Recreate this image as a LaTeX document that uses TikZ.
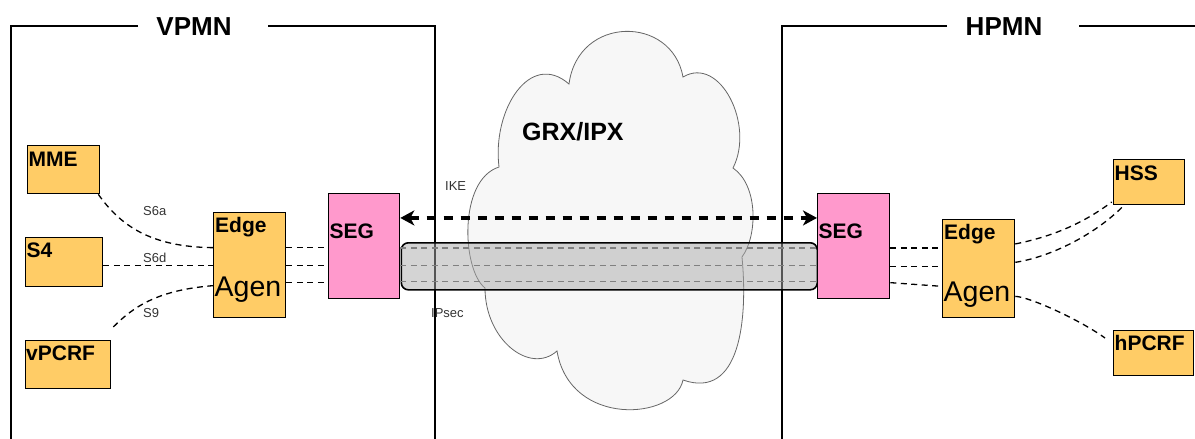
\documentclass[tikz,border=0pt]{standalone}
\usepackage{fontspec}
\setmainfont{Liberation Sans}
\usetikzlibrary{arrows.meta,calc}
\definecolor{boxor}{HTML}{FFCC66}
\definecolor{boxpk}{HTML}{FF99CC}
\definecolor{cloudfill}{HTML}{F7F7F7}
\definecolor{cloudline}{HTML}{666666}
\definecolor{lbl}{HTML}{333333}
\definecolor{tunfill}{HTML}{AAAAAA}
\definecolor{tundash}{HTML}{808080}
\begin{document}
\begin{tikzpicture}[x=1pt,y=-1pt,
  frame/.style={line width=2pt},
  box/.style={draw=black, line width=1.3pt, inner sep=0pt, anchor=north west},
  orbox/.style={box, fill=boxor},
  pkbox/.style={box, fill=boxpk},
  bt/.style={font=\fontsize{21}{24}\selectfont\bfseries, anchor=base west, inner sep=0pt},
  big/.style={font=\fontsize{28.5}{32}\selectfont, anchor=base west, inner sep=0pt},
  title/.style={font=\fontsize{26}{30}\selectfont\bfseries, anchor=base, inner sep=0pt},
  lab/.style={font=\fontsize{13}{15}\selectfont, text=lbl, inner sep=0pt, anchor=west},
  link/.style={draw=black, line width=1.3pt, dash pattern=on 6pt off 4.5pt},
  tlink/.style={draw=tundash, line width=1.3pt, dash pattern=on 6pt off 4.5pt},
  ike/.style={draw=black, line width=3.5pt, dash pattern=on 9pt off 8pt,
    {Stealth[length=14pt,width=15pt,inset=4pt]}-{Stealth[length=14pt,width=15pt,inset=4pt]}}
]
\useasboundingbox (0,0) rectangle (1195,439);

% cloud
\draw[fill=cloudfill, draw=cloudline, line width=0.8pt]
  (569,84) .. controls (578,15) and (672,15) .. (683,77)
  .. controls (720,55) and (755,125) .. (733,168)
  .. controls (758,185) and (758,235) .. (742,257)
  .. controls (748,320) and (740,400) .. (683,380)
  .. controls (675,420) and (570,428) .. (557,351)
  .. controls (530,375) and (485,340) .. (485,288)
  .. controls (462,270) and (458,180) .. (499,167)
  .. controls (492,110) and (530,50) .. (569,84) -- cycle;
\node[font=\fontsize{25}{29}\selectfont\bfseries, anchor=base west, inner sep=0pt] (grx) at (522,140) {GRX/IPX};

% frames
\draw[frame] (138,26) -- (11,26) -- (11,445);
\draw[frame] (268,26) -- (435,26) -- (435,445);
\draw[frame] (947,26) -- (782,26) -- (782,445);
\draw[frame] (1079,26) -- (1200,26);
\node[title] (vpmn) at (194,35) {VPMN};
\node[title] (hpmn) at (1004,35) {HPMN};

% tunnel
\node[draw=black, line width=1.6pt, rounded corners=7pt, fill=tunfill, fill opacity=0.5,
  minimum width=416pt, minimum height=47pt, inner sep=0pt, anchor=north west] (tun) at (400.5,242) {};

% boxes
\node[orbox, minimum width=72pt, minimum height=48pt] (mme) at (27,145) {};
\node[orbox, minimum width=77pt, minimum height=49pt] (s4) at (25,237) {};
\node[orbox, minimum width=85pt, minimum height=48pt] (vp) at (25,340) {};
\node[orbox, minimum width=72pt, minimum height=105pt] (eL) at (213,212) {};
\node[pkbox, minimum width=71pt, minimum height=105pt] (segL) at (328,193) {};
\node[pkbox, minimum width=72pt, minimum height=105pt] (segR) at (817,193) {};
\node[orbox, minimum width=72pt, minimum height=98pt] (eR) at (942,219) {};
\node[orbox, minimum width=71pt, minimum height=45pt] (hss) at (1113,159) {};
\node[orbox, minimum width=80pt, minimum height=45pt] (hp) at (1113,330) {};

% box texts
\node[bt] (mmeT) at ($(mme.north west)+(1.5,21)$) {MME};
\node[bt] (s4T) at ($(s4.north west)+(1.5,20.5)$) {S4};
\node[bt] (vpT) at ($(vp.north west)+(1,20.7)$) {vPCRF};
\node[bt] (eLT) at ($(eL.north west)+(2,20.6)$) {Edge};
\node[big] (eLA) at ($(eL.north west)+(1.5,84)$) {Agen};
\node[bt] (segLT) at ($(segL.north west)+(1.5,45.7)$) {SEG};
\node[bt] (segRT) at ($(segR.north west)+(1.5,45.5)$) {SEG};
\node[bt] (eRT) at ($(eR.north west)+(2,20.7)$) {Edge};
\node[big] (eRA) at ($(eR.north west)+(1.5,82.5)$) {Agen};
\node[bt] (hssT) at ($(hss.north west)+(1.5,21.4)$) {HSS};
\node[bt] (hpT) at ($(hp.north west)+(1.5,20.7)$) {hPCRF};

% tunnel inner lines
\draw[tlink] ([yshift=-1.8pt]segL.east) -- ([yshift=-1.8pt]segR.west);
\draw[tlink] ([yshift=-19.5pt]segL.east) -- ([yshift=-19.5pt]segR.west);
\draw[tlink] ([yshift=-35.5pt]segL.east) -- ([yshift=-35.5pt]segR.west);

% IKE
\draw[ike] ([yshift=28.2pt]segL.east) -- ([yshift=28.2pt]segR.west);

% left links
\draw[link] ([xshift=-2pt]mme.south east) .. controls (120,225) and (150,247) .. ([yshift=17.5pt]eL.west);
\draw[link] (s4.east |- eL.west) -- (eL.west);
\draw[link] ([shift={(2pt,13pt)}]vp.north east) .. controls (135,305) and (160,290) .. ([yshift=-20.5pt]eL.west);
\draw[link] ([yshift=17.5pt]eL.east) -- ([yshift=-1.5pt]segL.west);
\draw[link] ([yshift=-0.5pt]eL.east) -- ([yshift=-19.5pt]segL.west);
\draw[link] ([yshift=-17.5pt]eL.east) -- ([yshift=-36.5pt]segL.west);

% right links
\draw[link] ([yshift=-1.8pt]segR.east) -- ([yshift=20.7pt]eR.west);
\draw[link] ([yshift=-20.2pt]segR.east) -- ([yshift=2.3pt]eR.west);
\draw[link] ([yshift=-36.5pt]segR.east) -- ([yshift=-17.7pt]eR.west);
\draw[link] ([yshift=24.7pt]eR.east) .. controls (1055,236) and (1085,222) .. ([shift={(-1.3pt,3.3pt)}]hss.south west);
\draw[link] ([yshift=6.3pt]eR.east) .. controls (1050,257) and (1095,235) .. ([xshift=11pt]hss.south west);
\draw[link] ([yshift=-27.7pt]eR.east) .. controls (1030,297) and (1080,320) .. ([shift={(-8pt,-8pt)}]hp.north west);

% labels
\node[lab] (s6a) at (143,210.7) {S6a};
\node[lab] (s6d) at (143,258.3) {S6d};
\node[lab] (s9) at (143,313.3) {S9};
\node[lab] (ikeL) at (445,186) {IKE};
\node[lab] (ipsec) at (431,313.3) {IPsec};
\end{tikzpicture}
\end{document}
